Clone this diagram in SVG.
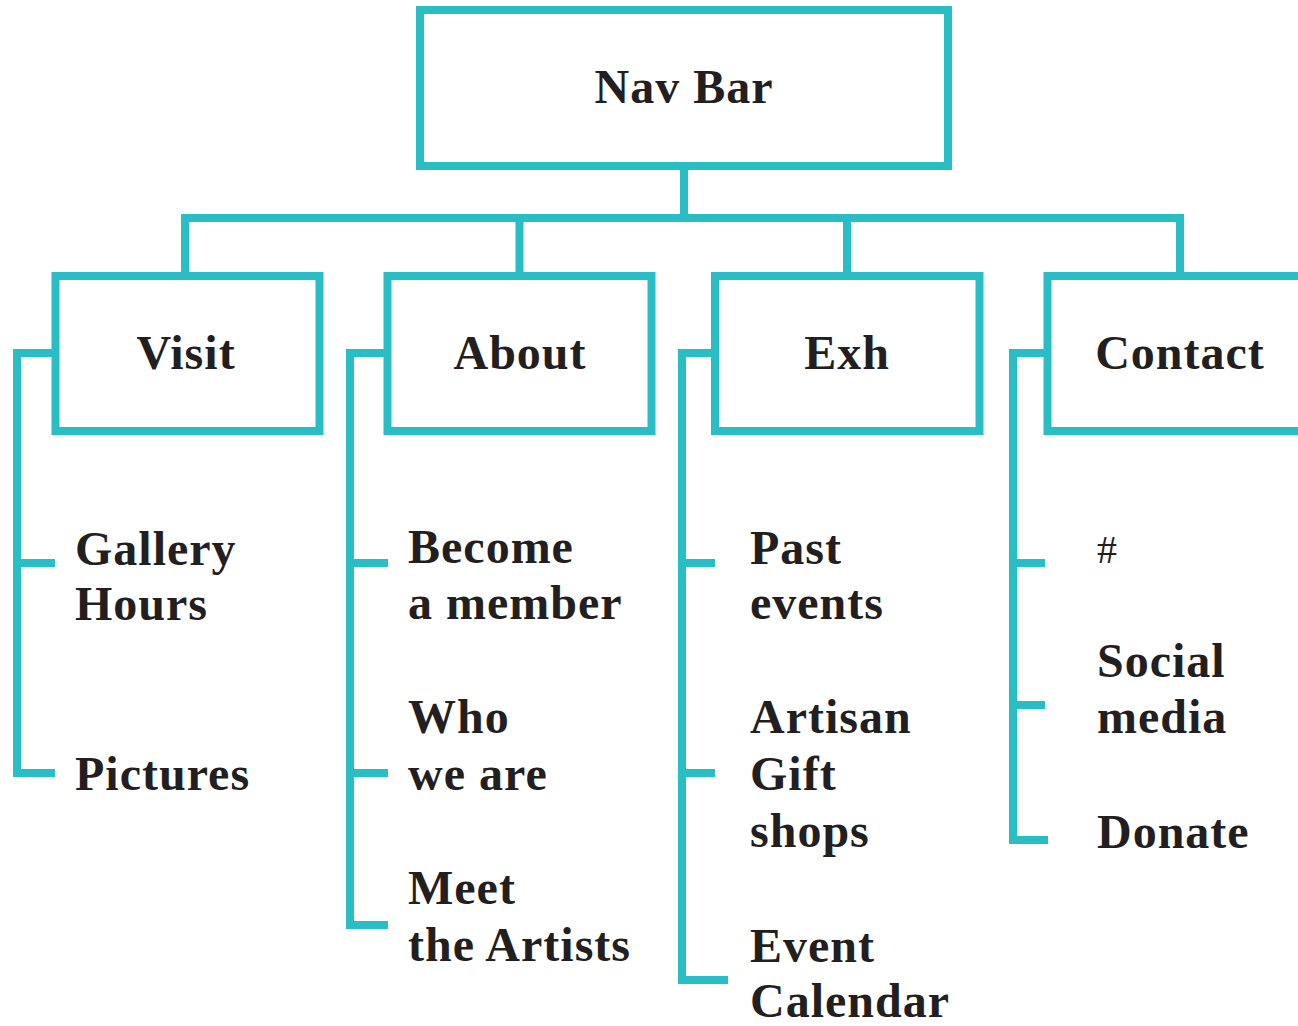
<svg xmlns="http://www.w3.org/2000/svg" width="1298" height="1026" viewBox="0 0 1298 1026">
<style>
.box{fill:#fff;stroke:#29bec6;stroke-width:8}
.ln{fill:none;stroke:#29bec6;stroke-width:8;stroke-linecap:square;stroke-linejoin:miter}
text{font-family:"Liberation Serif","Times New Roman",serif;font-weight:bold;font-size:48px;fill:#231f20;letter-spacing:1px}
.c{text-anchor:middle}
.h{font-weight:normal;font-size:40px}
</style>
<rect width="1298" height="1026" fill="#fff"/>
<g id="connectors">
<path class="ln" d="M684 166V218M185 218H1180M185 218V276M519.5 218V276M847 218V276M1180 218V276"/>
<path class="ln" d="M55 353H17V773H51M17 563H51"/>
<path class="ln" d="M387 353H350V925H384M350 563H384M350 773H384"/>
<path class="ln" d="M715 353H682V980H724M682 563H711M682 773H711"/>
<path class="ln" d="M1047 353H1013V840H1044M1013 563H1041M1013 705H1041"/>
</g>
<g id="navbar"><rect class="box" x="420" y="10" width="528" height="156"/><text class="c" x="684" y="103">Nav Bar</text></g>
<g id="visit"><rect class="box" x="55.5" y="276" width="264" height="155"/><text class="c" x="186" y="369">Visit</text></g>
<g id="about"><rect class="box" x="387.5" y="276" width="264" height="155"/><text class="c" x="520" y="369">About</text></g>
<g id="exh"><rect class="box" x="715" y="276" width="264.5" height="155"/><text class="c" x="847" y="369">Exh</text></g>
<g id="contact"><rect class="box" x="1047.5" y="276" width="270" height="155"/><text class="c" x="1180" y="369">Contact</text></g>
<g id="gallery-hours"><text x="75" y="565">Gallery</text><text x="75" y="620">Hours</text></g>
<g id="pictures"><text x="75" y="790">Pictures</text></g>
<g id="become-member"><text x="408" y="563">Become</text><text x="408" y="619">a member</text></g>
<g id="who-we-are"><text x="408" y="733">Who</text><text x="408" y="790">we are</text></g>
<g id="meet-artists"><text x="408" y="904">Meet</text><text x="408" y="961">the Artists</text></g>
<g id="past-events"><text x="750" y="564">Past</text><text x="750" y="619">events</text></g>
<g id="artisan-gift-shops"><text x="750" y="733">Artisan</text><text x="750" y="790">Gift</text><text x="750" y="847">shops</text></g>
<g id="event-calendar"><text x="750" y="962">Event</text><text x="750" y="1017">Calendar</text></g>
<g id="hash"><text class="h" x="1097" y="563">#</text></g>
<g id="social-media"><text x="1097" y="677">Social</text><text x="1097" y="733">media</text></g>
<g id="donate"><text x="1097" y="848">Donate</text></g>
</svg>
